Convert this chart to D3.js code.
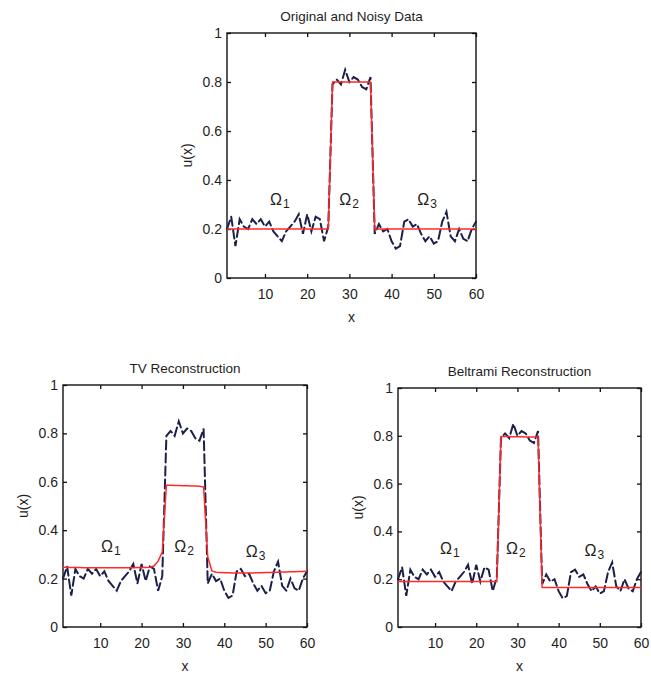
<!DOCTYPE html>
<html><head><meta charset="utf-8">
<script src="https://cdn.jsdelivr.net/npm/d3@7"></script>
<style>
body{margin:0;background:#fff;}
svg{display:block;font-family:"Liberation Sans",Arial,sans-serif;}
</style></head><body>
<script>
// ---- data ----
const xIndex = [1,2,3,4,5,6,7,8,9,10,11,12,13,14,15,16,17,18,19,20,21,22,23,24,25,26,27,28,29,30,31,32,33,34,35,36,37,38,39,40,41,42,43,44,45,46,47,48,49,50,51,52,53,54,55,56,57,58,59,60];
const noisy = [0.20,0.25,0.13,0.24,0.21,0.20,0.24,0.22,0.24,0.21,0.23,0.19,0.17,0.15,0.19,0.21,0.23,0.26,0.18,0.26,0.19,0.25,0.24,0.15,0.21,
  0.79,0.81,0.79,0.85,0.80,0.82,0.81,0.78,0.77,0.82,
  0.18,0.22,0.19,0.20,0.15,0.12,0.13,0.23,0.24,0.21,0.22,0.18,0.15,0.17,0.14,0.15,0.23,0.27,0.17,0.15,0.20,0.16,0.15,0.20,0.23];
const original = [0.2,0.2,0.2,0.2,0.2,0.2,0.2,0.2,0.2,0.2,0.2,0.2,0.2,0.2,0.2,0.2,0.2,0.2,0.2,0.2,0.2,0.2,0.2,0.2,0.2,
  0.8,0.8,0.8,0.8,0.8,0.8,0.8,0.8,0.8,0.8,
  0.2,0.2,0.2,0.2,0.2,0.2,0.2,0.2,0.2,0.2,0.2,0.2,0.2,0.2,0.2,0.2,0.2,0.2,0.2,0.2,0.2,0.2,0.2,0.2,0.2];
const tvRecon = [0.247,0.247,0.246,0.246,0.246,0.245,0.245,0.245,0.245,0.245,0.245,0.245,0.245,0.245,0.245,0.245,0.245,0.245,0.246,0.246,0.246,0.247,0.252,0.272,0.31,
  0.586,0.586,0.585,0.585,0.584,0.584,0.583,0.583,0.582,0.578,
  0.29,0.232,0.226,0.225,0.224,0.224,0.223,0.223,0.223,0.223,0.223,0.223,0.224,0.224,0.225,0.225,0.226,0.226,0.227,0.227,0.228,0.228,0.229,0.229,0.23];
const beltramiRecon = [0.19,0.19,0.19,0.19,0.19,0.19,0.19,0.19,0.19,0.19,0.19,0.19,0.19,0.19,0.19,0.19,0.19,0.19,0.19,0.19,0.19,0.19,0.19,0.19,0.19,
  0.797,0.797,0.797,0.796,0.796,0.796,0.795,0.795,0.795,0.795,
  0.165,0.165,0.165,0.165,0.165,0.165,0.165,0.165,0.165,0.165,0.165,0.165,0.165,0.165,0.165,0.165,0.165,0.165,0.165,0.165,0.165,0.165,0.165,0.165,0.165];
const xTicks = [10,20,30,40,50,60];
const yTicks = [0,0.2,0.4,0.6,0.8,1];
const yTickLabels = ["0","0.2","0.4","0.6","0.8","1"];
const titles = ["Original and Noisy Data","TV Reconstruction","Beltrami Reconstruction"];
const regionNames = ["1","2","3"];
const regionLabelX = [[11.2,27.6,46.1],[10.2,27.9,45.2],[11.2,27.2,46.3]];
const regionLabelY = [[0.30,0.30,0.30],[0.31,0.31,0.29],[0.305,0.305,0.295]];

// ---- drawing ----
const W = 651, H = 675;
const svg = d3.select("body").append("svg").attr("width", W).attr("height", H);

const panels = [
  {left:227, right:476, top:33, bottom:278, recon: original, title: titles[0]},
  {left:63, right:307, top:385, bottom:627, recon: tvRecon, title: titles[1]},
  {left:398, right:641, top:388, bottom:627, recon: beltramiRecon, title: titles[2]}
];
const ink = "#1e1e1e";

panels.forEach((p, pi) => {
  const x = d3.scaleLinear().domain([1,60]).range([p.left, p.right]);
  const y = d3.scaleLinear().domain([0,1]).range([p.bottom, p.top]);
  const g = svg.append("g");

  g.append("rect").attr("x", p.left).attr("y", p.top)
    .attr("width", p.right - p.left).attr("height", p.bottom - p.top)
    .attr("fill", "none").attr("stroke", "#111").attr("stroke-width", 1.4);

  const tl = 4;
  const axB = d3.axisBottom(x).tickValues(xTicks).tickSize(-tl).tickPadding(11).tickFormat(d3.format("d"));
  const axT = d3.axisTop(x).tickValues(xTicks).tickSize(-tl).tickFormat("");
  const axL = d3.axisLeft(y).tickValues(yTicks).tickSize(-tl).tickPadding(5).tickFormat((d,i)=>yTickLabels[i]);
  const axR = d3.axisRight(y).tickValues(yTicks).tickSize(-tl).tickFormat("");
  [[axB,`translate(0,${p.bottom})`],[axT,`translate(0,${p.top})`],[axL,`translate(${p.left},0)`],[axR,`translate(${p.right},0)`]]
    .forEach(([ax,tr]) => {
      const a = g.append("g").attr("transform", tr).call(ax);
      a.select(".domain").remove();
      a.selectAll("line").attr("stroke","#111").attr("stroke-width",1.3);
      a.selectAll("text").attr("font-size", 14).attr("fill",ink)
        .attr("font-family","'Liberation Sans',Arial,sans-serif");
    });

  const line = d3.line().x((d,i)=>x(xIndex[i])).y(d=>y(d));
  g.append("path").datum(noisy).attr("d", line)
    .attr("fill","none").attr("stroke","#1c1f48").attr("stroke-width",2)
    .attr("stroke-dasharray","9,4").attr("stroke-linecap","round");
  g.append("path").datum(p.recon).attr("d", line)
    .attr("fill","none").attr("stroke","#ff2a2a").attr("stroke-width",1.5);

  g.append("text").attr("x", (p.left+p.right)/2).attr("y", p.top - 12)
    .attr("text-anchor","middle").attr("font-size",13.5).attr("fill",ink).text(p.title);
  g.append("text").attr("x", (p.left+p.right)/2).attr("y", p.bottom + 44)
    .attr("text-anchor","middle").attr("font-size",14).attr("fill",ink).text("x");
  const ylx = p.left - 35, yly = (p.top+p.bottom)/2;
  g.append("text").attr("transform", `translate(${ylx},${yly}) rotate(-90)`)
    .attr("text-anchor","middle").attr("font-size",14).attr("fill",ink).text("u(x)");

  regionNames.forEach((r, ri) => {
    const t = g.append("text").attr("x", x(regionLabelX[pi][ri])).attr("y", y(regionLabelY[pi][ri]))
      .attr("font-size",16).attr("fill",ink);
    t.append("tspan").text("Ω");
    t.append("tspan").attr("font-size",12).attr("dy",3).attr("dx",1).text(r);
  });
});
</script>
</body></html>
